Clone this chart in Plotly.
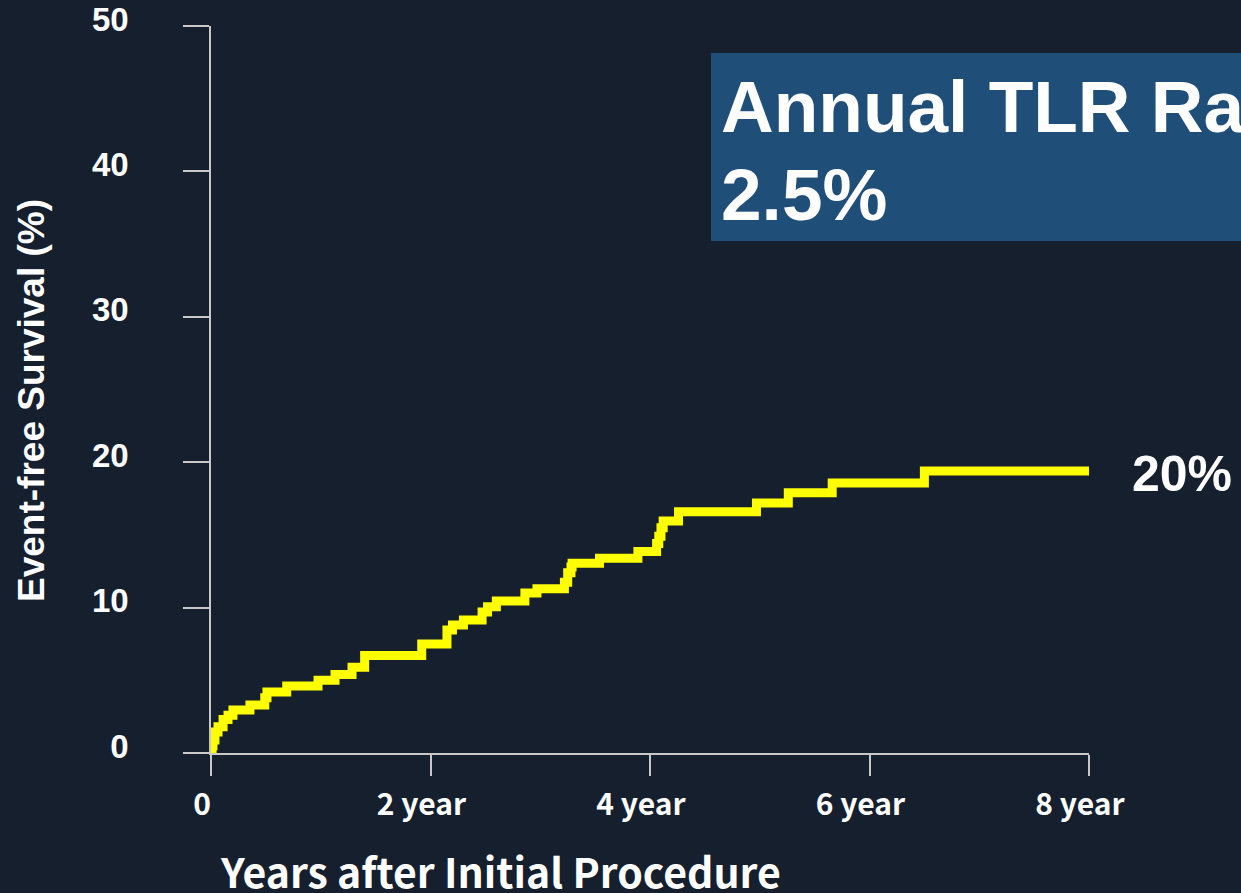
import plotly.graph_objects as go

# Kaplan-Meier style cumulative TLR (%)
years = [0.0, 0.01, 0.018, 0.036, 0.064, 0.11, 0.155, 0.2, 0.355, 0.49, 0.51, 0.69,
         0.975, 1.13, 1.285, 1.40, 1.92, 2.15, 2.2, 2.3, 2.47, 2.52, 2.6, 2.86, 2.97,
         3.22, 3.25, 3.28, 3.29, 3.54, 3.89, 4.06, 4.08, 4.10, 4.12, 4.26, 4.97, 5.26,
         5.66, 6.5, 8.0]
events = [0.0, 0.5, 0.9, 1.44, 1.8, 2.3, 2.6, 2.95, 3.3, 3.8, 4.2, 4.6,
          5.0, 5.4, 5.9, 6.7, 7.5, 8.46, 8.8, 9.15, 9.7, 10.05, 10.45, 11.0, 11.3,
          11.75, 12.4, 12.8, 13.05, 13.4, 13.85, 14.4, 14.9, 15.5, 15.95, 16.6, 17.2, 17.9,
          18.57, 19.4, 19.4]

x_tickvals = [0, 2, 4, 6, 8]
x_ticktext = ["0", "2 year", "4 year", "6 year", "8 year"]
y_tickvals = [0, 10, 20, 30, 40, 50]

BG = "#161f2e"
AXIS = "#c8c8c8"

fig = go.Figure()
fig.add_trace(go.Scatter(
    x=years, y=events, mode="lines",
    line=dict(color="#ffff00", width=9, shape="hv"),
    showlegend=False, hoverinfo="skip",
))

fig.update_layout(
    width=1241, height=893,
    paper_bgcolor=BG, plot_bgcolor=BG,
    margin=dict(l=211, r=152, t=26, b=140),
    showlegend=False,
)

fig.update_xaxes(
    range=[0, 8], tickvals=x_tickvals, ticktext=x_ticktext,
    showgrid=False, zeroline=False, automargin=False,
    showline=True, linecolor=AXIS, linewidth=1.5,
    ticks="outside", ticklen=21, tickwidth=1.5, tickcolor=AXIS,
    ticklabelstandoff=3, ticklabelshift=-9,
    tickfont=dict(family="Noto Sans CJK KR", size=30, color="white", weight="bold"),
)
fig.update_yaxes(
    range=[0, 50], tickvals=y_tickvals,
    showgrid=False, zeroline=False, automargin=False,
    showline=True, linecolor=AXIS, linewidth=1.5,
    ticks="outside", ticklen=26, tickwidth=1.5, tickcolor=AXIS,
    ticklabelstandoff=48, ticklabelshift=-7,
    tickfont=dict(family="Liberation Sans, Arial", size=33, color="white", weight="bold"),
)

# Box behind the "Annual TLR Rate" text
fig.add_shape(type="rect", xref="paper", yref="paper",
              x0=(711 - 211) / 878, x1=(1300 - 211) / 878,
              y0=(753 - 241) / 727, y1=(753 - 53) / 727,
              fillcolor="#1f4e79", line=dict(width=0), layer="below")

fig.add_annotation(xref="paper", yref="paper", x=(719 - 211) / 878, y=(753 - 107) / 727,
                   text="Annual TLR Rate", showarrow=False, xanchor="left", yanchor="middle",
                   font=dict(family="Liberation Sans, Arial", size=73, color="white", weight="bold"))
fig.add_annotation(xref="paper", yref="paper", x=(719 - 211) / 878, y=(753 - 195) / 727,
                   text="2.5%", showarrow=False, xanchor="left", yanchor="middle",
                   font=dict(family="Liberation Sans, Arial", size=73, color="white", weight="bold"))

fig.add_annotation(xref="paper", yref="paper", x=(1182 - 211) / 878, y=(753 - 474) / 727,
                   text="20%", showarrow=False, xanchor="center", yanchor="middle",
                   font=dict(family="Liberation Sans, Arial", size=50, color="white", weight="bold"))

# Axis titles
fig.add_annotation(xref="paper", yref="paper", x=(31 - 211) / 878, y=(753 - 401) / 727,
                   text="Event-free Survival (%)", showarrow=False, textangle=-90,
                   xanchor="center", yanchor="middle",
                   font=dict(family="Liberation Sans, Arial", size=37, color="white", weight="bold"))
fig.add_annotation(xref="paper", yref="paper", x=(500 - 211) / 878, y=(753 - 870) / 727,
                   text="Years after Initial Procedure", showarrow=False,
                   xanchor="center", yanchor="middle",
                   font=dict(family="Noto Sans CJK KR", size=41, color="white", weight="bold"))

fig.write_html("out.html", config={"displayModeBar": False},
               post_script="document.body.style.margin='0';document.body.style.overflow='hidden';")
